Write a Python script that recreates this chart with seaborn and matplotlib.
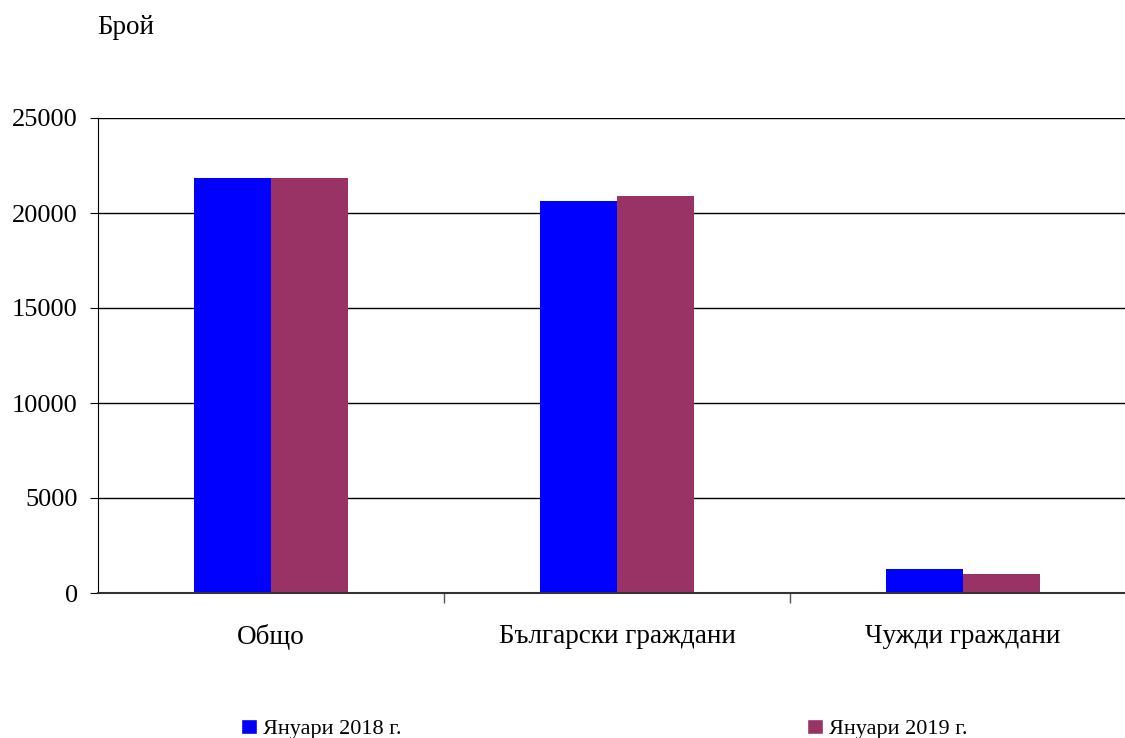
import pandas as pd
import seaborn as sns
import matplotlib.pyplot as plt
from matplotlib.patches import Patch

categories = ['Общо', 'Български граждани', 'Чужди граждани']
series = ['Януари 2018 г.', 'Януари 2019 г.']
values_2018 = [21850, 20640, 1260]
values_2019 = [21850, 20900, 1000]
colors = ['#0000FF', '#993366']

df = pd.DataFrame({
    'Категория': categories * 2,
    'Период': [series[0]] * 3 + [series[1]] * 3,
    'Брой': values_2018 + values_2019,
})

sns.set_style('white')
plt.rcParams['font.family'] = ['Liberation Serif', 'DejaVu Serif']
plt.rcParams['text.color'] = 'black'
plt.rcParams['xtick.color'] = 'black'
plt.rcParams['ytick.color'] = 'black'

fig = plt.figure(figsize=(11.25, 7.38), dpi=100)
ax = fig.add_axes([98 / 1125, 1 - 593 / 738, 3 * 346 / 1125, 475 / 738])

sns.barplot(data=df, x='Категория', y='Брой', hue='Период', palette=colors,
            width=0.445, saturation=1, linewidth=0, edgecolor='none',
            ax=ax, legend=False)

ax.set_ylim(0, 25000)
ax.set_xlim(-0.5, 2.5)
ax.set_yticks(range(0, 25001, 5000))
ax.yaxis.grid(True, color='black', linewidth=1)
ax.set_axisbelow(True)
ax.set_xlabel('')
ax.set_ylabel('')
for side in ['top', 'right']:
    ax.spines[side].set_visible(False)
ax.spines['left'].set_color('black')
ax.spines['bottom'].set_color('#333333')
ax.spines['bottom'].set_linewidth(1.5)

ax.tick_params(axis='y', labelsize=19, left=True, length=6, color='black', pad=8.5)
ax.tick_params(axis='x', which='major', labelsize=19.5, length=0, pad=22)
ax.set_xticks([0.5, 1.5], minor=True)
ax.tick_params(axis='x', which='minor', bottom=True, length=7, color='#555555', width=1)

fig.text(97 / 1125, 1 - 28 / 738, 'Брой', fontsize=19.5, va='center', ha='left')

handles = [Patch(facecolor=c) for c in colors]
fig.legend(handles[:1], series[:1], loc='center left', bbox_to_anchor=(221 / 1125, 1 - 729 / 738),
           frameon=False, fontsize=16, handlelength=0.7, handleheight=0.7, handletextpad=0.3)
fig.legend(handles[1:], series[1:], loc='center left', bbox_to_anchor=(787 / 1125, 1 - 729 / 738),
           frameon=False, fontsize=16, handlelength=0.7, handleheight=0.7, handletextpad=0.3)

fig.savefig('out.png', dpi=100)
